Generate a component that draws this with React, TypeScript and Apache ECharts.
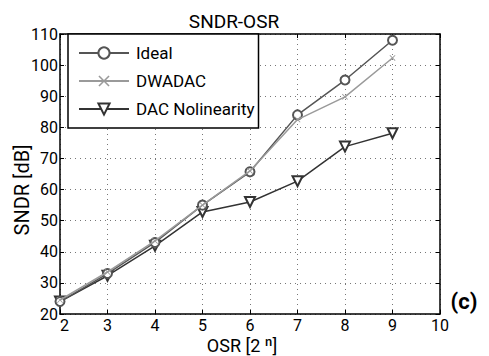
import React, { useEffect, useRef } from "react";
import * as echarts from "echarts";

const osr = [2, 3, 4, 5, 6, 7, 8, 9];
const ideal = [24, 33, 43, 55, 65.7, 84, 95.2, 108];
const dwadac = [24.5, 33.5, 43.5, 55, 66, 82.5, 89.8, 102.3];
const dacNonlin = [24, 32.3, 41.9, 52.8, 56, 62.7, 73.8, 78.1];
const seriesNames = ["Ideal", "DWADAC", "DAC Nolinearity"];

const FONT = "Roboto, 'Liberation Sans', sans-serif";

export default function App() {
  const ref = useRef<HTMLDivElement>(null);
  useEffect(() => {
    if (!ref.current) return;
    const chart = echarts.init(ref.current, undefined, { renderer: "svg" });
    const pair = (ys: number[]) => osr.map((x, i) => [x, ys[i]]);
    const axisCommon = {
      type: "value" as const,
      axisLine: { show: true, lineStyle: { color: "#000", width: 1.5 } },
      axisTick: { show: true, inside: true, length: 4, lineStyle: { color: "#000" } },
      splitLine: { show: false },
    };
    chart.setOption({
      animation: false,
      backgroundColor: "#fff",
      title: {
        text: "SNDR-OSR",
        left: 229,
        top: 6,
        textAlign: "center",
        textStyle: { fontFamily: FONT, fontSize: 19, lineHeight: 20, fontWeight: "normal", color: "#000" },
      },
      grid: { left: 60, right: 49, top: 34, bottom: 42 },
      legend: {
        orient: "vertical",
        left: 68,
        top: 34,
        padding: [10, 4, 10, 10],
        itemGap: 10,
        itemWidth: 50,
        itemHeight: 14,
        backgroundColor: "#fff",
        borderColor: "#000",
        borderWidth: 1.5,
        borderRadius: 0,
        data: seriesNames,
        textStyle: { fontFamily: FONT, fontSize: 17, lineHeight: 18, color: "#000", padding: [0, 0, 0, 2] },
      },
      xAxis: [
        {
          ...axisCommon,
          min: 2,
          max: 10,
          interval: 1,
          position: "bottom",
          axisLabel: { fontFamily: FONT, fontSize: 16, color: "#000", margin: 3, alignMinLabel: "left" },
          splitLine: { show: true, lineStyle: { type: [1, 4], color: "#777", width: 1 } },
        },
        {
          ...axisCommon,
          min: 2,
          max: 10,
          interval: 1,
          position: "top",
          axisLabel: { show: false },
        },
      ],
      yAxis: [
        {
          ...axisCommon,
          min: 20,
          max: 110,
          interval: 10,
          position: "left",
          axisLabel: { fontFamily: FONT, fontSize: 16, color: "#000", margin: 2 },
          splitLine: { show: true, lineStyle: { type: [1, 4], color: "#777", width: 1 } },
        },
        {
          ...axisCommon,
          min: 20,
          max: 110,
          interval: 10,
          position: "right",
          axisLabel: { show: false },
        },
      ],
      series: [
        {
          name: seriesNames[0],
          type: "line",
          data: pair(ideal),
          symbol: "emptyCircle",
          symbolSize: 9,
          color: "#555",
          lineStyle: { color: "#555", width: 1.5 },
          itemStyle: { color: "#555", borderColor: "#555", borderWidth: 1.5 },
          z: 3,
        },
        {
          name: seriesNames[1],
          type: "line",
          data: pair(dwadac),
          symbol: "path://M0,1L1,0L5,4L9,0L10,1L6,5L10,9L9,10L5,6L1,10L0,9L4,5Z",
          symbolSize: 6,
          color: "#9a9a9a",
          lineStyle: { color: "#9a9a9a", width: 1.5 },
          itemStyle: { color: "#9a9a9a" },
          z: 4,
        },
        {
          name: seriesNames[2],
          type: "line",
          data: pair(dacNonlin),
          symbol: "emptyTriangle",
          symbolRotate: 180,
          symbolSize: 10,
          color: "#333",
          lineStyle: { color: "#333", width: 1.5 },
          itemStyle: { color: "#333", borderColor: "#333", borderWidth: 1.5 },
          z: 2,
        },
      ],
      graphic: [
        {
          type: "text",
          x: 242,
          y: 345,
          style: {
            text: "OSR [2 ⁿ]",
            fontFamily: FONT,
            fontSize: 18,
            fill: "#000",
            align: "center",
            verticalAlign: "middle",
          },
        },
        {
          type: "text",
          x: 22,
          y: 190,
          rotation: Math.PI / 2,
          style: {
            text: "SNDR [dB]",
            fontFamily: FONT,
            fontSize: 20,
            fill: "#000",
            align: "center",
            verticalAlign: "middle",
          },
        },
        {
          type: "text",
          x: 464,
          y: 301,
          style: {
            text: "(c)",
            fontFamily: FONT,
            fontSize: 22,
            fontWeight: "bold",
            fill: "#000",
            align: "center",
            verticalAlign: "middle",
          },
        },
      ],
    });
    return () => chart.dispose();
  }, []);
  return <div ref={ref} style={{ width: 489, height: 356, position: "absolute", left: 0, top: 0 }} />;
}
